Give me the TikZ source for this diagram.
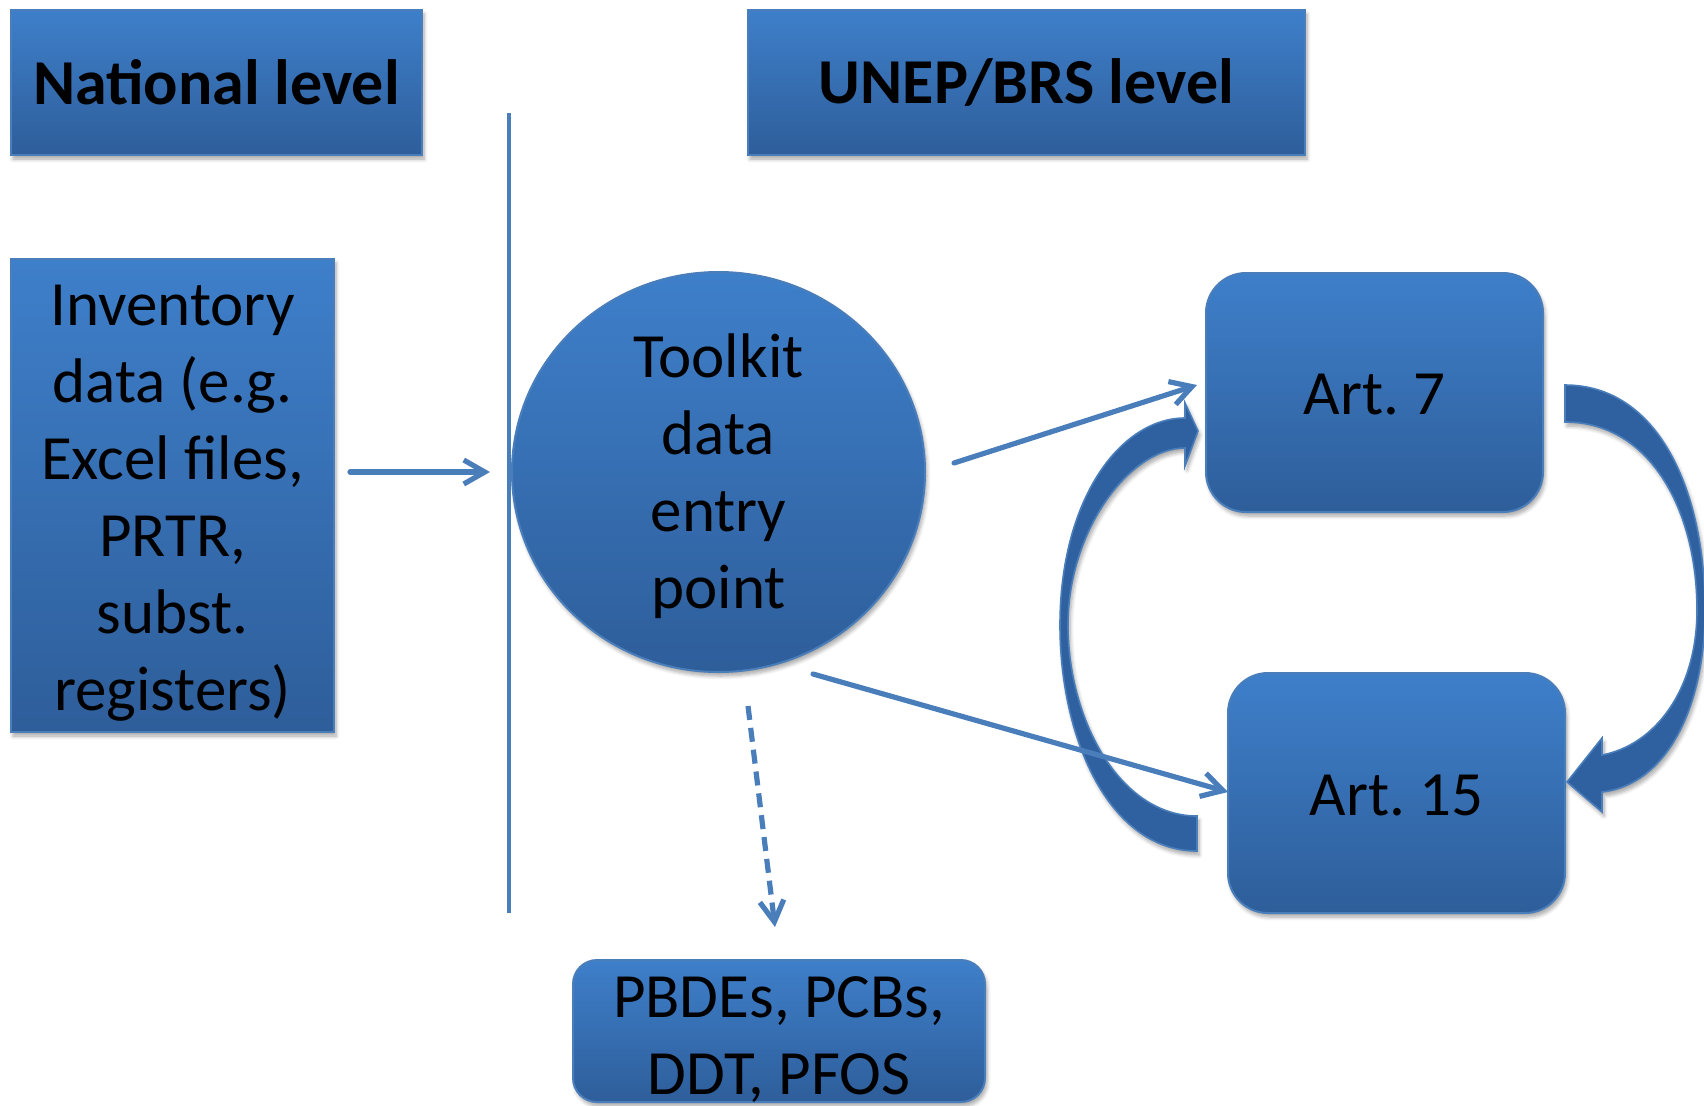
\documentclass[tikz,border=0pt]{standalone}
\usepackage{fontspec}
\setmainfont{Carlito}
\frenchspacing
\usetikzlibrary{arrows.meta,shadows.blur,shapes.geometric}
\definecolor{boxtop}{RGB}{62,127,202}
\definecolor{boxbot}{RGB}{46,94,154}
\definecolor{edgeblue}{RGB}{74,126,187}
\definecolor{arrowfill}{RGB}{47,97,160}
\newcommand{\dropby}[2]{\raisebox{-#1}[\height][\depth]{#2}}
\newcommand{\stacklines}[1]{\begin{tabular}{@{}c@{}}#1\end{tabular}}
\begin{document}
\begin{tikzpicture}[x=0.5pt,y=-0.5pt,
  softshadow/.style={blur shadow={shadow xshift=1pt,shadow yshift=-2pt,shadow blur steps=6,shadow opacity=35}},
  blueshape/.style={draw=edgeblue,line width=1pt,top color=boxtop,bottom color=boxbot,
    text=black,font=\fontsize{31.5}{38.5}\selectfont,align=center,inner sep=0pt,softshadow},
  titlebox/.style={blueshape,font=\fontsize{32}{38.5}\selectfont\bfseries},
  roundbox/.style={blueshape,rounded corners=20pt},
  conn/.style={draw=edgeblue,line width=2.6pt,line cap=round,line join=round,
    -{Straight Barb[length=10.5pt,width=12pt,line width=2.6pt]}},
  dashconn/.style={conn,line cap=butt,dash pattern=on 7pt off 4pt},
  bigarrow/.style={fill=arrowfill,draw=edgeblue,line width=0.8pt,line join=miter,softshadow},
  divider/.style={draw=edgeblue,line width=2pt}]
\useasboundingbox (0,0) rectangle (1704,1105);

% nodes
\node[titlebox,minimum width=205.5pt,minimum height=72.5pt] (nat) at (216.5,82.5) {National level};
\node[titlebox,minimum width=278.5pt,minimum height=72.5pt] (unep) at (1026.5,82.5) {UNEP/BRS level};
\node[blueshape,minimum width=161.5pt,minimum height=236.5pt] (inv) at (172.5,495.5)
  {\dropby{3.5pt}{\stacklines{Inventory\\data (e.g.\\Excel files,\\PRTR,\\subst.\\registers)}}};
\node[blueshape,ellipse,inner sep=-20pt,minimum width=206.5pt,minimum height=200pt] (tk) at (718.5,472)
  {\dropby{2.9pt}{\stacklines{Toolkit\\data\\entry\\point}}};
\node[roundbox,minimum width=168.5pt,minimum height=119.5pt] (a7) at (1374.5,392.5) {\dropby{1pt}{Art. 7}};
\node[roundbox,minimum width=168.5pt,minimum height=120pt] (a15) at (1396.5,793) {\dropby{1pt}{Art. 15}};
\node[blueshape,rounded corners=12pt,inner ysep=-8pt,minimum width=206pt,minimum height=71pt] (pb) at (779,1031)
  {\dropby{5pt}{\stacklines{PBDEs, PCBs,\\DDT, PFOS}}};

% divider line
\coordinate (divtop) at (509,113);
\coordinate (divbot) at (509,913);
\draw[divider] (divtop) -- (divbot);

% curved block arrows
\path[bigarrow] (1197,851) .. controls (1110,851) and (1060,740) .. (1060,625)
  .. controls (1060,500) and (1120,418) .. (1185,418)
  -- (1185,403) -- (1198,431) -- (1185,466) -- (1185,448)
  .. controls (1130,448) and (1068,530) .. (1068,625)
  .. controls (1068,720) and (1120,816) .. (1197,816) -- cycle;
\path[bigarrow] (1565,385) .. controls (1658,385) and (1705,490) .. (1705,610)
  .. controls (1705,710) and (1665,785) .. (1602,792)
  -- (1602,812) -- (1567,782) -- (1602,738) -- (1602,755)
  .. controls (1655,745) and (1697,690) .. (1697,610)
  .. controls (1697,510) and (1650,422) .. (1565,422) -- cycle;

% connectors
\coordinate (t7s) at (954,463);
\coordinate (t7e) at (1197,385);
\coordinate (t15s) at (813,674);
\coordinate (t15e) at (1228,792);
\coordinate (tds) at (748,706);
\coordinate (tde) at (775,927);
\draw[conn,shorten <=7.5pt,shorten >=10.5pt] (inv.east |- tk.west) -- (tk.west);
\draw[conn] (t7s) -- (t7e);
\draw[conn] (t15s) -- (t15e);
\draw[dashconn] (tds) -- (tde);
\end{tikzpicture}
\end{document}
